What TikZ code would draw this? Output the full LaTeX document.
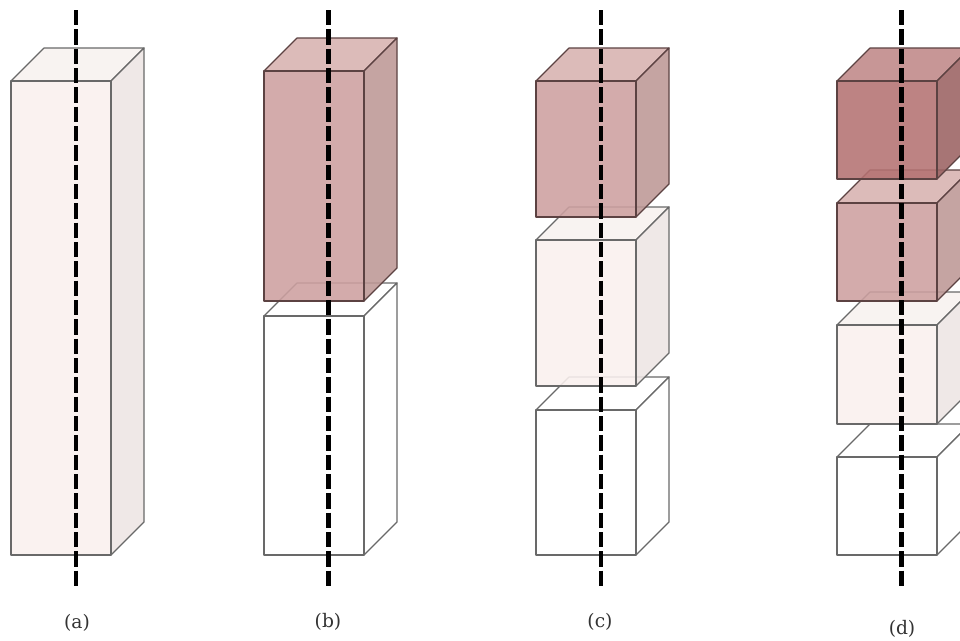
\documentclass[tikz,border=0pt]{standalone}
\usepackage{fontspec}
\setmainfont{DejaVu Serif}
\definecolor{pf}{RGB}{250,241,239}
\definecolor{ps}{RGB}{237,229,228}
\definecolor{pt}{RGB}{248,242,240}
\definecolor{rf}{RGB}{205,160,160}
\definecolor{rs}{RGB}{189,152,150}
\definecolor{rt}{RGB}{216,178,176}
\definecolor{df}{RGB}{181,114,114}
\definecolor{ds}{RGB}{155,98,98}
\definecolor{dt}{RGB}{192,136,136}
\definecolor{wf}{RGB}{255,255,255}
\definecolor{ws}{RGB}{255,255,255}
\definecolor{wt}{RGB}{255,255,255}
\definecolor{edgegray}{RGB}{105,105,105}
\definecolor{edgered}{RGB}{92,66,66}
\tikzset{
  x=0.75pt,y=-0.75pt,
  face/.style={fill opacity=0.88,line width=0.9pt,line join=round},
  axisline/.style={line width=3.4pt,black,dash pattern=on 11.5pt off 3pt},
  caption/.style={font=\fontsize{14}{17}\selectfont,text=black!80,inner sep=0pt}
}
% x, front top, bottom, colour prefix, edge colour
\newcommand{\cuboid}[5]{%
  \draw[face,draw=#5,fill=#4t] (#1,#2) -- ++(33,-33) -- ++(100,0) -- ++(-33,33) -- cycle;
  \draw[face,draw=#5,fill=#4s] (#1+100,#2) -- ++(33,-33) -- (#1+133,#3-33) -- (#1+100,#3) -- cycle;
  \draw[face,draw=#5,fill=#4f] (#1,#2) rectangle (#1+100,#3);
}
\begin{document}
\begin{tikzpicture}
\useasboundingbox (0,0) rectangle (960,640);
\clip (0,0) rectangle (960,640);
\fill[white] (0,0) rectangle (960,640);
% (a)
\cuboid{11}{81}{555}{p}{edgegray}
% (b)
\cuboid{264}{316}{555}{w}{edgegray}
\cuboid{264}{71}{301}{r}{edgered}
% (c)
\cuboid{536}{410}{555}{w}{edgegray}
\cuboid{536}{240}{386}{p}{edgegray}
\cuboid{536}{81}{217}{r}{edgered}
% (d)
\cuboid{837}{457}{555}{w}{edgegray}
\cuboid{837}{325}{424}{p}{edgegray}
\cuboid{837}{203}{301}{r}{edgered}
\cuboid{837}{81}{179}{d}{edgered}
% axes
\coordinate (a1) at (76,10);  \coordinate (a2) at (76,588);
\coordinate (b1) at (328.5,10); \coordinate (b2) at (328.5,588);
\coordinate (c1) at (601,10); \coordinate (c2) at (601,588);
\coordinate (d1) at (901.5,10); \coordinate (d2) at (901.5,588);
\draw[axisline] (a1) -- (a2);
\draw[axisline] (b1) -- (b2);
\draw[axisline] (c1) -- (c2);
\draw[axisline] (d1) -- (d2);
% captions
\node[caption] (la) at (77,622.5) {(a)};
\node[caption] (lb) at (328,621.5) {(b)};
\node[caption] (lc) at (600,621.5) {(c)};
\node[caption] (ld) at (902,628.5) {(d)};
\end{tikzpicture}
\end{document}
